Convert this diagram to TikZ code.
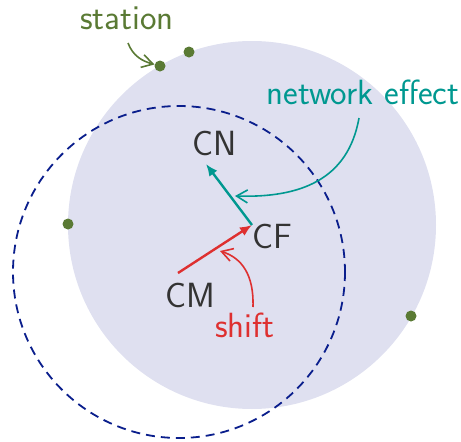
\documentclass[tikz,border=0pt]{standalone}
\usetikzlibrary{arrows.meta}
\definecolor{fillc}{RGB}{223,224,240}
\definecolor{navyc}{RGB}{10,30,140}
\definecolor{greenc}{RGB}{90,122,52}
\definecolor{tealc}{RGB}{0,152,144}
\definecolor{redc}{RGB}{222,48,48}
\definecolor{textc}{RGB}{51,51,51}
\begin{document}
\begin{tikzpicture}[x=1pt,y=-1pt,
  lbl/.style={font=\sffamily\fontsize{35}{40}\selectfont, inner sep=0pt, anchor=base},
  station/.style={circle, fill=greenc, minimum size=11pt, inner sep=0pt},
  vecarrow/.style={line width=2.4pt, -{Latex[length=12pt,width=10pt]}},
  callout/.style={line width=1.6pt, -{Straight Barb[length=11pt,width=13pt]}},
  dashcirc/.style={navyc, line width=1.8pt, dash pattern=on 9pt off 6pt}]
\useasboundingbox (0,0) rectangle (461,442);
\fill[fillc] (252,225) circle (184);
\draw[dashcirc] (179,272) circle (166);
% stations
\node[station] (s1) at (160,66) {};
\node[station] (s2) at (189,52) {};
\node[station] (s3) at (68,224) {};
\node[station] (s4) at (411,316) {};
% points
\coordinate (cf) at (252,225);
\coordinate (cm) at (178,273);
\coordinate (cn) at (206,164);
% labels
\node[lbl, textc] (tcn) at (215,155) {CN};
\node[lbl, textc] (tcf) at (272,248) {CF};
\node[lbl, textc] (tcm) at (190,307) {CM};
\node[lbl, redc] (tshift) at (245,337) {shift};
\node[lbl, tealc] (tne) at (363,104) {network effect};
\node[lbl, greenc] (tst) at (127,29) {station};
% vectors
\draw[vecarrow, redc] (cm) -- (cf);
\draw[vecarrow, tealc] (cf) -- (cn);
% callouts
\coordinate (ne0) at (359,118);
\coordinate (ne1) at (235,196);
\draw[callout, tealc] (ne0) .. controls (348,180) and (300,198) .. (ne1);
\coordinate (sh0) at (253,307);
\coordinate (sh1) at (220,251);
\draw[callout, redc] (sh0) .. controls (254,275) and (242,258) .. (sh1);
\coordinate (st0) at (128,43);
\draw[callout, greenc] (st0) .. controls (133,56) and (142,61) .. (s1);
\end{tikzpicture}
\end{document}
